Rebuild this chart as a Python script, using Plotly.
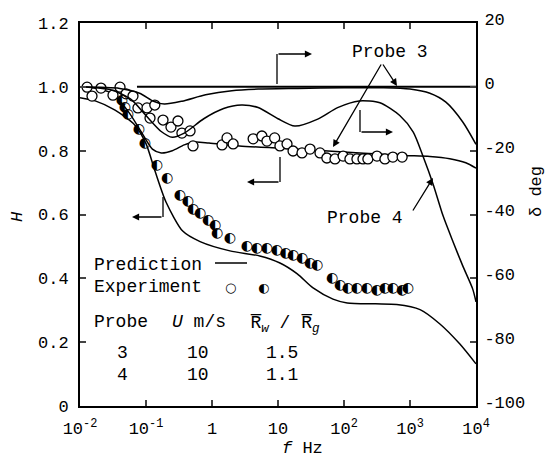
import plotly.graph_objects as go

# ---------------- data ----------------
x_tick_vals = [0.01, 0.1, 1, 10, 100, 1000, 10000]
x_tick_text = ["10<sup>-2</sup>", "10<sup>-1</sup>", "1", "10", "10<sup>2</sup>", "10<sup>3</sup>", "10<sup>4</sup>"]
h_tick_vals = [0, 0.2, 0.4, 0.6, 0.8, 1.0, 1.2]
h_tick_text = ["0", "0.2", "0.4", "0.6", "0.8", "1.0", "1.2"]
d_tick_vals = [-100, -80, -60, -40, -20, 0, 20]
d_tick_text = ["-100", "-80", "-60", "-40", "-20", "0", "20"]

# experiment, probe 3 (open circles), H
exp3_f = [0.0128, 0.0152, 0.0208, 0.0316, 0.0404, 0.0498, 0.0635, 0.0755, 0.1035, 0.115,
          0.136, 0.181, 0.239, 0.305, 0.35, 0.465, 0.516, 1.42, 1.69, 2.09, 4.2, 5.7, 6.8,
          8.9, 10.7, 13.7, 16.9, 23.1, 30.6, 43.3, 55, 73, 97, 123, 157, 194, 230, 316,
          417, 550, 760]
exp3_H = [0.999, 0.971, 0.996, 0.974, 0.999, 0.978, 0.971, 0.934, 0.934, 0.902,
          0.943, 0.896, 0.874, 0.893, 0.855, 0.862, 0.815, 0.818, 0.840, 0.821, 0.837, 0.846, 0.830,
          0.840, 0.815, 0.821, 0.799, 0.793, 0.805, 0.793, 0.777, 0.774, 0.783, 0.774, 0.774, 0.774, 0.774, 0.783,
          0.774, 0.780, 0.780]

# experiment, probe 4 (half-filled circles), H
exp4_f = [0.043, 0.048, 0.053, 0.078, 0.096, 0.146, 0.208, 0.327, 0.43, 0.516, 0.658, 0.87,
          1.11, 1.19, 1.87, 3.37, 4.8, 6.8, 9.6, 13, 16.9, 23.1, 30.6, 39, 66, 87, 114, 157,
          222, 316, 417, 550, 760, 930]
exp4_H = [0.956, 0.934, 0.912, 0.865, 0.824, 0.752, 0.714, 0.658, 0.642, 0.617, 0.602, 0.580,
          0.564, 0.539, 0.526, 0.501, 0.495, 0.492, 0.486, 0.478, 0.470, 0.461, 0.448, 0.439, 0.398, 0.376, 0.367, 0.367,
          0.367, 0.363, 0.367, 0.367, 0.363, 0.367]

# predictions
pred3_H_f = [0.01, 0.015, 0.03, 0.055, 0.087, 0.125, 0.17, 0.25, 0.38, 0.55, 0.9, 2.6, 10, 50, 200, 800, 2000, 4000, 7000, 10000]
pred3_H = [1.0, 0.998, 0.98, 0.92, 0.855, 0.805, 0.793, 0.80, 0.818, 0.827, 0.824, 0.815, 0.808, 0.80, 0.792, 0.785, 0.782, 0.775, 0.762, 0.745]

pred4_H_f = [0.01, 0.017, 0.034, 0.068, 0.1, 0.137, 0.2, 0.36, 0.66, 1.87, 5.3, 10.7, 19.6, 34, 68, 112, 300, 630, 1420, 2840, 5700, 10000]
pred4_H = [0.966, 0.956, 0.927, 0.88, 0.822, 0.736, 0.640, 0.548, 0.515, 0.486, 0.47, 0.448, 0.414, 0.370, 0.335, 0.323, 0.320, 0.318, 0.302, 0.257, 0.194, 0.132]

pred3_d_f = [0.01, 0.04, 0.08, 0.13, 0.19, 0.35, 0.8, 2, 5, 20, 100, 400, 1000, 2000, 3500, 6300, 10000]
pred3_d = [0, -0.5, -2, -4.5, -5.4, -4.5, -2.5, -1.2, -0.7, -0.5, -0.3, -0.3, -0.7, -2, -4.8, -11, -18]

pred4_d_f = [0.01, 0.03, 0.06, 0.1, 0.17, 0.25, 0.38, 0.75, 1.5, 2.8, 5, 10, 18, 40, 80, 170, 350, 700,
             1120, 1590, 2240, 3180, 4500, 6300, 8900, 10000]
pred4_d = [0, -1, -4, -9, -14, -15.8, -14.5, -10, -6.8, -5.7, -6.5, -10, -12.3, -10.1, -6.5, -4.4, -5, -9,
           -14.2, -22, -30.5, -40.5, -48.6, -56.1, -63.3, -67.4]

zero_f = [0.073, 10000]
zero_d = [0, 0]

# ---------------- figure ----------------
OFF = 8                      # page body margin of the html page
W, H_ = 559 - OFF, 462 - OFF
SL, SR, ST, SB = 80, 476, 23, 406   # plot area in screenshot pixels
L, R, T, B = SL - OFF, W - (SR - OFF), ST - OFF, H_ - (SB - OFF)
PW, PH = SR - SL, SB - ST
MONO = "Liberation Mono"
FS = 17


def px(x):
    return (x - SL) / PW


def py(y):
    return (SB - y) / PH


fig = go.Figure()
line = dict(color="black", width=1.5, shape="spline", smoothing=0.7)

fig.add_trace(go.Scatter(x=pred3_H_f, y=pred3_H, mode="lines", line=line, yaxis="y"))
fig.add_trace(go.Scatter(x=pred4_H_f, y=pred4_H, mode="lines", line=line, yaxis="y"))
fig.add_trace(go.Scatter(x=pred3_d_f, y=pred3_d, mode="lines", line=line, yaxis="y2"))
fig.add_trace(go.Scatter(x=pred4_d_f, y=pred4_d, mode="lines", line=line, yaxis="y2"))
fig.add_trace(go.Scatter(x=zero_f, y=zero_d, mode="lines", line=dict(color="black", width=2), yaxis="y2"))

fig.add_trace(go.Scatter(x=exp3_f, y=exp3_H, mode="markers", yaxis="y",
                         marker=dict(symbol="circle", size=10, color="white",
                                     line=dict(color="black", width=1.3))))
fig.add_trace(go.Scatter(x=exp4_f, y=exp4_H, mode="text", yaxis="y",
                         text=["\u25D0"] * len(exp4_f), textposition="middle center",
                         textfont=dict(family="DejaVu Sans", size=14, color="black")))

fig.update_layout(
    width=W, height=H_, showlegend=False,
    margin=dict(l=L, r=R, t=T, b=B, pad=0, autoexpand=False),
    paper_bgcolor="white", plot_bgcolor="white",
    font=dict(family=MONO, size=FS, color="black"),
    xaxis=dict(type="log", range=[-2, 4], tickvals=x_tick_vals, ticktext=x_tick_text,
               ticks="inside", ticklen=6, tickwidth=1.5, showline=True, linewidth=2,
               linecolor="black", mirror="ticks", showgrid=False, zeroline=False,
               ticklabelstandoff=6,
               tickfont=dict(family=MONO, size=FS)),
    yaxis=dict(range=[0, 1.2], tickvals=h_tick_vals, ticktext=h_tick_text,
               ticks="inside", ticklen=6, tickwidth=1.5, showline=True, linewidth=2,
               linecolor="black", showgrid=False, zeroline=False, ticklabelstandoff=6,
               tickfont=dict(family=MONO, size=FS)),
    yaxis2=dict(range=[-100, 20], tickvals=d_tick_vals, ticktext=d_tick_text, overlaying="y",
                side="right", ticks="inside", ticklen=6, tickwidth=1.5, showline=True,
                linewidth=2, linecolor="black", showgrid=False, zeroline=False,
                ticklabelstandoff=3, ticklabelshift=-4,
                tickfont=dict(family=MONO, size=FS)),
)

ann = []


def text(x, y, s, xanchor="left", size=18, angle=0, family=MONO):
    ann.append(dict(x=px(x), y=py(y), xref="paper", yref="paper", text=s, showarrow=False,
                    xanchor=xanchor, yanchor="middle", textangle=angle,
                    font=dict(family=family, size=size, color="black")))


def arrow(x0, y0, x1, y1):
    ann.append(dict(x=px(x1), y=py(y1), xref="paper", yref="paper", text="",
                    showarrow=True, ax=x0 - x1, ay=y0 - y1, axref="pixel", ayref="pixel",
                    arrowhead=2, arrowsize=1.1, arrowwidth=1.3, arrowcolor="black", standoff=0))


shapes = []


def seg(x0, y0, x1, y1, w=1.3):
    shapes.append(dict(type="line", xref="paper", yref="paper", x0=px(x0), y0=py(y0),
                       x1=px(x1), y1=py(y1), line=dict(color="black", width=w)))


# legend block
text(92, 265, "Prediction")
seg(215, 263, 247, 263, 1.5)
text(92, 287, "Experiment")
text(230, 287, "\u25CB", xanchor="center", size=13, family="DejaVu Sans")
text(263, 287, "\u25D0", xanchor="center", size=13, family="DejaVu Sans")
text(92, 322, "Probe")
text(170, 322, "<i>U</i> m/s")
text(248, 324, "R\u0305<sub><i>w</i></sub> / R\u0305<sub><i>g</i></sub>")
text(122, 353, "3", xanchor="center")
text(198, 353, "10", xanchor="center")
text(282, 353, "1.5", xanchor="center")
text(122, 375, "4", xanchor="center")
text(198, 375, "10", xanchor="center")
text(282, 375, "1.1", xanchor="center")

# probe labels and arrows
text(390, 52, "Probe 3", xanchor="center")
arrow(382, 63, 397, 86)
arrow(382, 63, 333, 147)
text(365, 218, "Probe 4", xanchor="center")
arrow(412, 212, 433, 178)

# axis-indicator brackets
seg(277, 84, 277, 54)
arrow(277, 54, 312, 54)
seg(360, 110, 360, 132)
arrow(360, 132, 393, 132)
seg(280, 157, 280, 182)
arrow(280, 182, 247, 182)
seg(163, 197, 163, 217)
arrow(163, 217, 132, 217)

# axis titles
text(17, 217, "<i>H</i>", xanchor="center", angle=-90, size=17)
text(536, 192, "\u03b4 deg", xanchor="center", angle=-90, size=17)
text(302, 448, "<i>f</i> Hz", xanchor="center", size=17)

fig.update_layout(annotations=ann, shapes=shapes)
fig.write_html("out.html")
